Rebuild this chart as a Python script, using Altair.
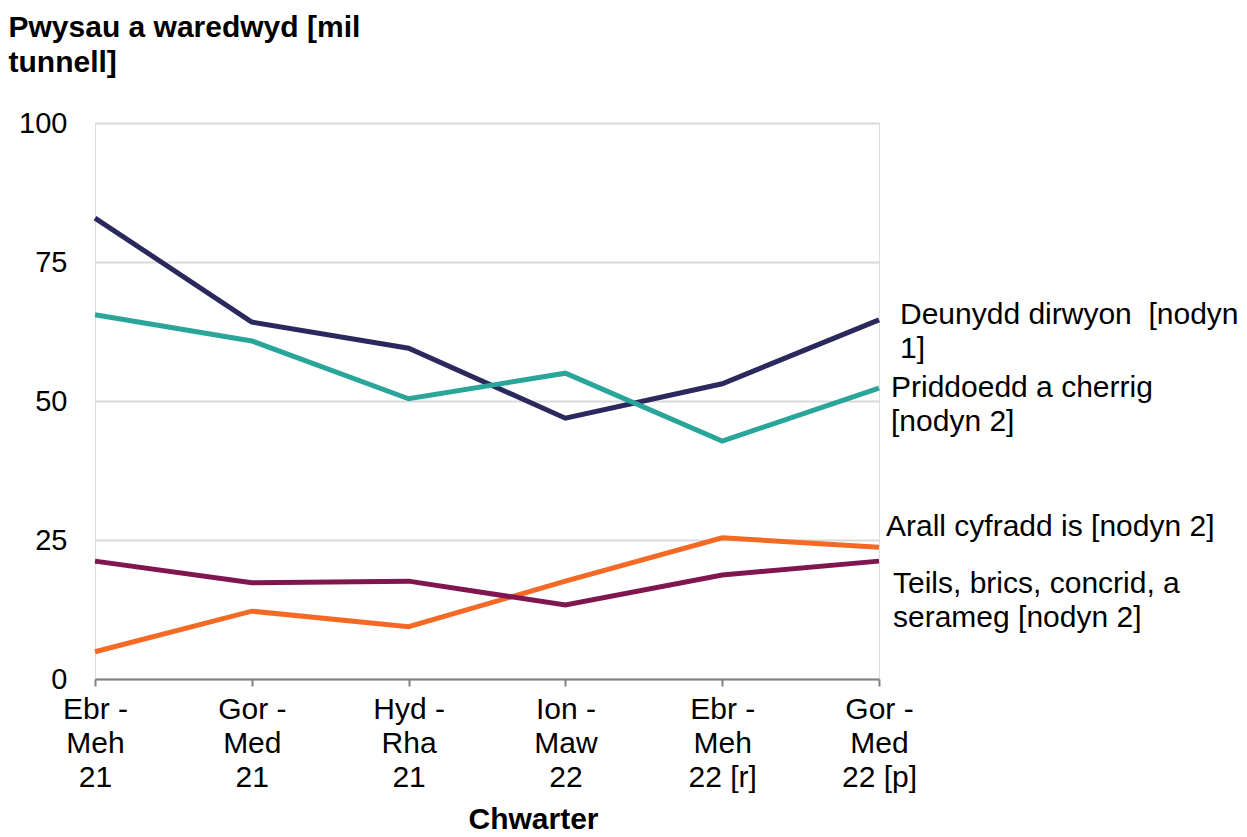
import altair as alt
import pandas as pd

quarters = ["Ebr - Meh 21", "Gor - Med 21", "Hyd - Rha 21", "Ion - Maw 22", "Ebr - Meh 22 [r]", "Gor - Med 22 [p]"]
quarter_lines = [["Ebr -", "Meh", "21"], ["Gor -", "Med", "21"], ["Hyd -", "Rha", "21"],
                 ["Ion -", "Maw", "22"], ["Ebr -", "Meh", "22 [r]"], ["Gor -", "Med", "22 [p]"]]

series = ["Deunydd dirwyon  [nodyn 1]", "Priddoedd a cherrig [nodyn 2]",
          "Arall cyfradd is [nodyn 2]", "Teils, brics, concrid, a serameg [nodyn 2]"]
label_lines = [["Deunydd dirwyon\u00a0 [nodyn", "1]"], ["Priddoedd a cherrig", "[nodyn 2]"],
               ["Arall cyfradd is [nodyn 2]"], ["Teils, brics, concrid, a", "serameg [nodyn 2]"]]
colors = ["#2b285e", "#2aa59a", "#f46a25", "#801650"]

deunydd = [82.9, 64.2, 59.5, 46.9, 53.1, 64.6]
priddoedd = [65.5, 60.8, 50.4, 55.0, 42.8, 52.3]
arall = [4.9, 12.2, 9.4, 17.6, 25.4, 23.7]
teils = [21.2, 17.3, 17.6, 13.3, 18.7, 21.2]
values = [deunydd, priddoedd, arall, teils]

rows = []
for s, vals in zip(series, values):
    for q, v in zip(quarters, vals):
        rows.append({"quarter": q, "series": s, "value": v})
df = pd.DataFrame(rows)

FONT = "Liberation Sans"
FS = 30
label_map = "{" + ", ".join(f"'{q}': {ql}" for q, ql in zip(quarters, quarter_lines)) + "}"

x = alt.X("quarter:N", sort=quarters, scale=alt.Scale(paddingOuter=0, padding=0),
          axis=alt.Axis(title="Chwarter", labelAngle=0, labelExpr=label_map + "[datum.value]",
                        labelFontSize=FS, labelLineHeight=34, labelColor="#000", labelPadding=8,
                        labelBaseline="top",
                        titleFontSize=FS, titleFontWeight="bold", titleColor="#000", titlePadding=12,
                        titleX=438, titleAlign="center",
                        domainColor="#808080", domainWidth=2, tickColor="#808080", tickWidth=2, tickSize=7,
                        grid=False, labelFont=FONT, titleFont=FONT))
y = alt.Y("value:Q", scale=alt.Scale(domain=[0, 100]),
          axis=alt.Axis(values=[0, 25, 50, 75, 100], title=["Pwysau a waredwyd [mil", "tunnell]"],
                        titleAngle=0, titleAlign="left", titleBaseline="top", titleX=-87, titleY=-111,
                        titleFontSize=FS, titleFontWeight="bold", titleColor="#000", titleLineHeight=35,
                        labelFontSize=29, labelColor="#000", labelPadding=28, domain=False, ticks=False,
                        gridColor="#d9d9d9", gridWidth=2, labelFont=FONT, titleFont=FONT))

color = alt.Color("series:N", scale=alt.Scale(domain=series, range=colors), legend=None)

lines = alt.Chart(df).mark_line(strokeWidth=5).encode(x=x, y=y, color=color)

offsets = [(21, -5), (12, 0), (7, -20), (14, 23)]
label_layers = []
for s, vals, ll, (dx, dy) in zip(series, values, label_lines, offsets):
    ldf = pd.DataFrame([{"quarter": quarters[-1], "value": vals[-1], "label": ll}])
    label_layers.append(
        alt.Chart(ldf).mark_text(align="left", baseline="middle", dx=dx, dy=dy, fontSize=FS,
                                 lineHeight=34, font=FONT, color="#000").encode(
            x=alt.X("quarter:N", sort=quarters), y="value:Q", text="label"))

chart = alt.layer(lines, *label_layers).properties(
    width=784, height=556, padding={"left": 0, "top": 4, "right": 0, "bottom": 0}).configure_view(
    stroke=None).configure(font=FONT)

chart.save("out.html", embed_options={"renderer": "svg", "actions": False})
